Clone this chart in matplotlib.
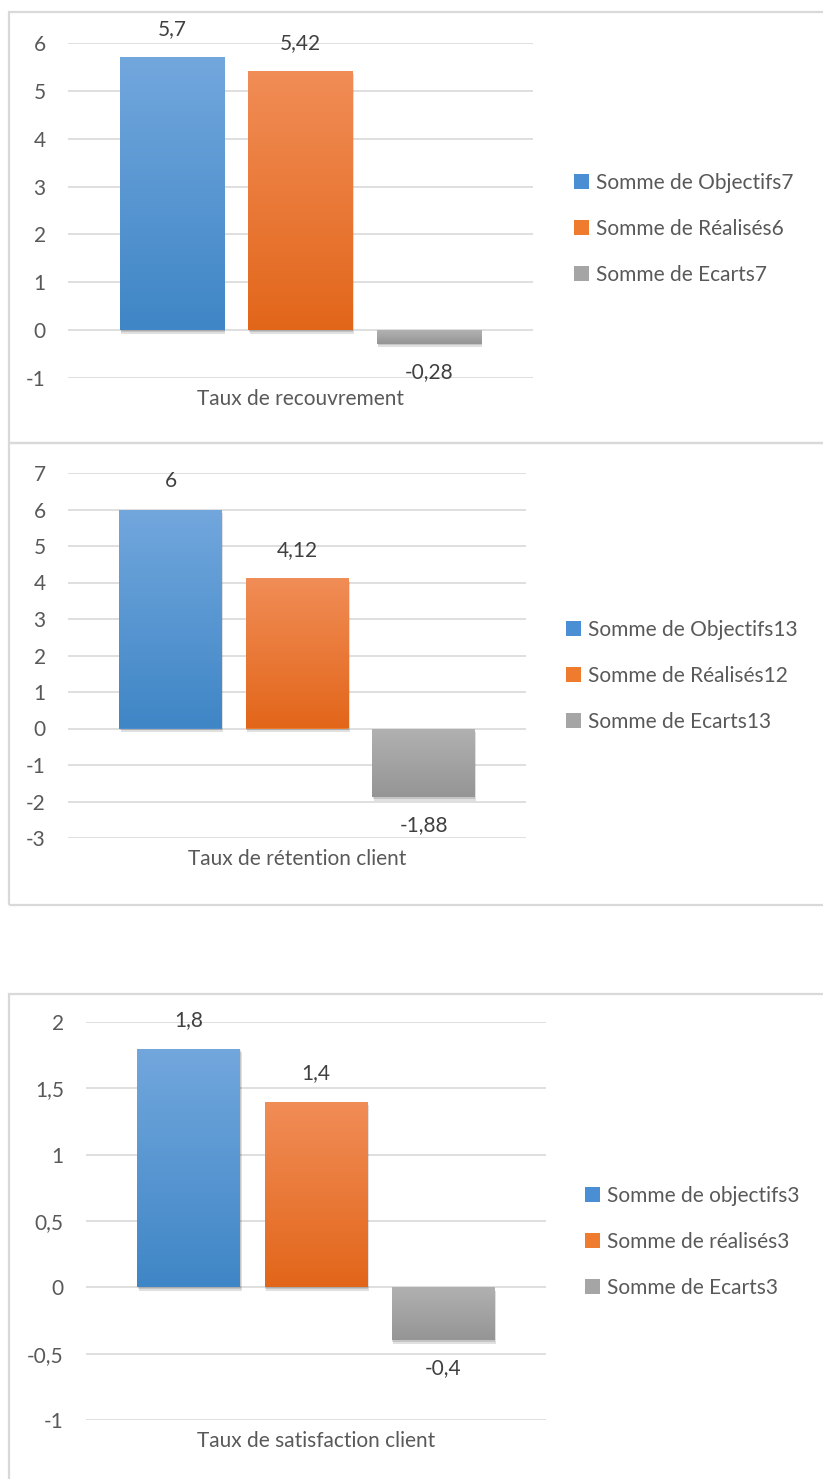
import matplotlib
matplotlib.use("Agg")
import matplotlib.pyplot as plt
import numpy as np
from matplotlib.colors import LinearSegmentedColormap
from matplotlib.patches import Rectangle
import matplotlib.patheffects as pe

plt.rcParams['font.family'] = ['Lato', 'DejaVu Sans']

categories = ["Taux de recouvrement", "Taux de rétention client", "Taux de satisfaction client"]
objectifs = [5.7, 6, 1.8]
realises = [5.42, 4.12, 1.4]
ecarts = [-0.28, -1.88, -0.4]
legend_labels = [
    ["Somme de Objectifs7", "Somme de Réalisés6", "Somme de Ecarts7"],
    ["Somme de Objectifs13", "Somme de Réalisés12", "Somme de Ecarts13"],
    ["Somme de objectifs3", "Somme de réalisés3", "Somme de Ecarts3"],
]
y_limits = [(-1, 6), (-3, 7), (-1, 2)]
y_steps = [1, 1, 0.5]

W, H = 823, 1479
# axes rectangles in pixels: left, top, right, bottom
axes_px = [(68, 43, 533, 378), (68, 473, 526, 838), (86, 1022, 546, 1420)]
legend_px = [(574, 229), (566, 676), (585, 1242)]
boxes_px = [(9, 12, 843, 443), (9, 443, 843, 905), (9, 994, 843, 1500)]

grads = [("#72a7dd", "#3f86c6"), ("#f18d57", "#e2661a"), ("#b1b1b1", "#959595")]
solid = ["#4a8fd4", "#ee7b2e", "#a5a5a5"]
fs = 15


def fmt(v):
    return f"{v:g}".replace(".", ",")


fig = plt.figure(figsize=(W / 100, H / 100), dpi=100)

for (x0, y0, x1, y1) in boxes_px:
    fig.patches.append(Rectangle((x0 / W, 1 - y1 / H), (x1 - x0) / W, (y1 - y0) / H,
                                 transform=fig.transFigure, fill=False,
                                 edgecolor="#d9d9d9", linewidth=1.6))

for i in range(3):
    l, t, r, b = axes_px[i]
    ax = fig.add_axes([l / W, 1 - b / H, (r - l) / W, (b - t) / H])
    vals = [objectifs[i], realises[i], ecarts[i]]
    lo, hi = y_limits[i]
    ticks = np.arange(lo, hi + y_steps[i] / 2, y_steps[i])
    ax.set_yticks(ticks)
    ax.set_yticklabels([fmt(round(v, 2)) for v in ticks])
    ax.yaxis.grid(True, color="#d9d9d9", linewidth=1.2)
    ax.set_axisbelow(True)
    for s in ax.spines.values():
        s.set_visible(False)
    ax.tick_params(axis="y", length=0, pad=16, labelsize=fs, labelcolor="#595959")
    ax.set_xticks([1])
    ax.set_xticklabels([categories[i]])
    ax.tick_params(axis="x", length=0, pad=8, labelsize=fs, labelcolor="#595959")

    bars = ax.bar(range(3), vals, width=0.81, color=solid)
    handles = []
    for j, bar in enumerate(bars):
        bar.set_path_effects([pe.SimplePatchShadow(offset=(1, -2.5), shadow_rgbFace="#000000", alpha=0.12),
                              pe.SimplePatchShadow(offset=(0.5, -1.2), shadow_rgbFace="#000000", alpha=0.12),
                              pe.Normal()])
        x = bar.get_x()
        w = bar.get_width()
        y_bot = bar.get_y()
        y_top = y_bot + bar.get_height()
        ya, yb = min(y_bot, y_top), max(y_bot, y_top)
        cmap = LinearSegmentedColormap.from_list("g", [grads[j][1], grads[j][0]])
        img = ax.imshow(np.linspace(0, 1, 256).reshape(-1, 1), cmap=cmap, origin="lower",
                        extent=[x, x + w, ya, yb], aspect="auto", zorder=bar.get_zorder() + 0.1)
        img.set_clip_path(bar)
        v = vals[j]
        ax.annotate(fmt(v), (x + w / 2, v), xytext=(0, 13 if v >= 0 else -13),
                    textcoords="offset points", ha="center",
                    va="bottom" if v >= 0 else "top", fontsize=fs, color="#404040")
        handles.append(Rectangle((0, 0), 1, 1, facecolor=solid[j]))
    ax.set_xlim(-0.81, 2.81)
    ax.set_ylim(lo, hi)

    lx, ly = legend_px[i]
    fig.legend(handles, legend_labels[i], loc="center left",
               bbox_to_anchor=(lx / W, 1 - ly / H), frameon=False,
               fontsize=fs, labelcolor="#595959", handlelength=0.7, handleheight=0.7,
               handletextpad=0.35, labelspacing=1.25, borderpad=0, borderaxespad=0)

fig.savefig("out.png", dpi=100)
